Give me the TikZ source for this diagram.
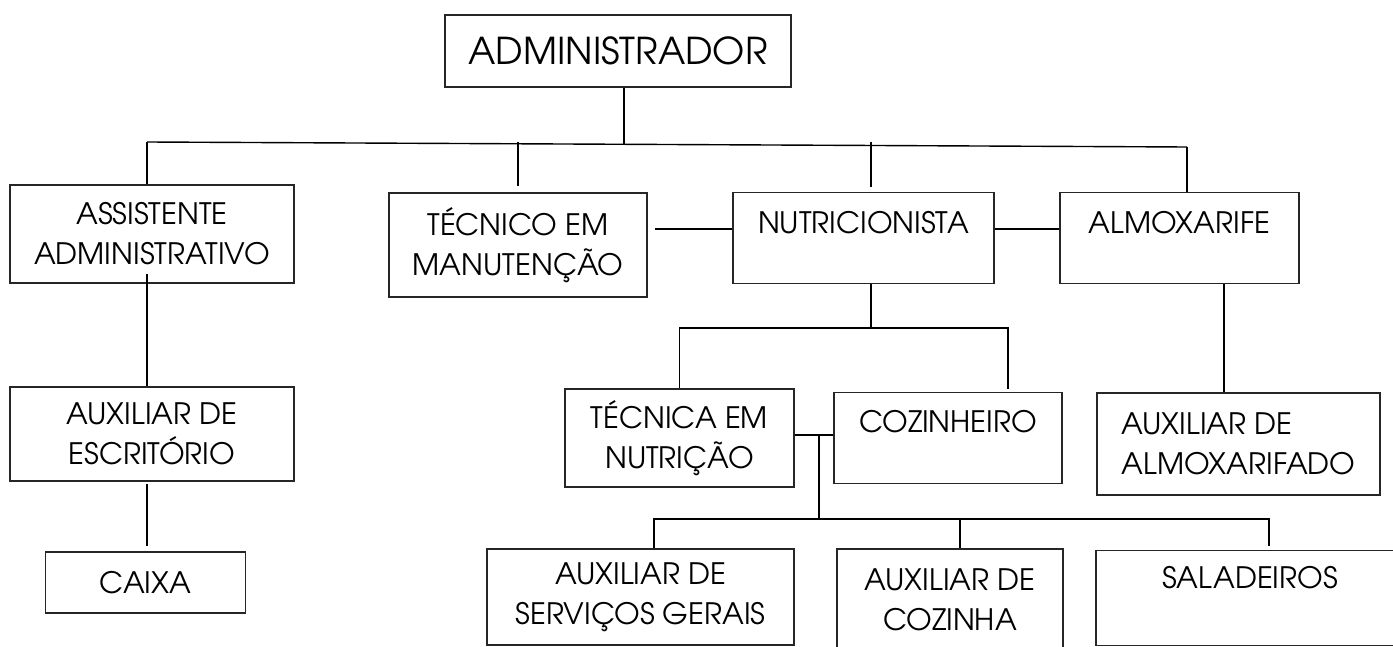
\documentclass[tikz,border=0pt]{standalone}
\usepackage{fontspec}
\setmainfont{TeX Gyre Adventor}
\usetikzlibrary{positioning}

\begin{document}
\begin{tikzpicture}[
  x=1pt, y=-1pt,
  cargo/.style={
    draw=black!85,
    line width=1.1pt,
    align=center,
    inner sep=0pt,
    font=\fontsize{29.5}{40}\selectfont
  },
  topo/.style={cargo, anchor=north},
  link/.style={line width=1.4pt}
]
\useasboundingbox (0,0) rectangle (1393,647);
\clip (0,0) rectangle (1393,647);

% nivel 1
\node[cargo, minimum width=346pt, minimum height=72pt, font=\fontsize{37}{40}\selectfont] (admin) at (618,51) {ADMINISTRADOR};

% nivel 2
\node[cargo, minimum width=284pt, minimum height=98pt] (assist) at (152,234) {ASSISTENTE\\ADMINISTRATIVO};
\node[cargo, minimum width=258pt, minimum height=104pt] (tecman) at (518,245) {TÉCNICO EM\\MANUTENÇÃO};
\node[topo, minimum width=261pt, text height=41pt, text depth=50pt] (nutri) at (863.5,192) {NUTRICIONISTA};
\node[topo, minimum width=239pt, text height=41pt, text depth=50pt] (almox) at (1179.5,192) {ALMOXARIFE};

% nivel 3
\node[cargo, minimum width=284pt, minimum height=94pt] (auxesc) at (152,434) {AUXILIAR DE\\ESCRITÓRIO};
\node[cargo, minimum width=229pt, minimum height=98pt] (tecnut) at (679.5,438) {TÉCNICA EM\\NUTRIÇÃO};
\node[topo, minimum width=228pt, text height=40pt, text depth=51pt] (coz) at (948,392) {COZINHEIRO};
\node[cargo, align=left, minimum width=283pt, minimum height=102pt] (auxalm) at (1238.5,444) {AUXILIAR DE\\ALMOXARIFADO};

% nivel 4
\node[cargo, minimum width=200pt, minimum height=61pt] (caixa) at (145.5,582.5) {CAIXA};
\node[cargo, minimum width=307pt, minimum height=96pt] (auxserv) at (640.5,597) {AUXILIAR DE\\SERVIÇOS GERAIS};
\node[cargo, minimum width=226pt, minimum height=102pt] (auxcoz) at (950,600) {AUXILIAR DE\\COZINHA};
\node[topo, minimum width=308pt, text height=38pt, text depth=57pt] (salad) at (1250,550) {SALADEIROS};

% barras
\coordinate (busA) at (147,142);
\coordinate (busB) at (1187,147);
\coordinate (r1) at (0,229);
\coordinate (busN) at (0,328);
\coordinate (jn) at (819,435);
\coordinate (busS) at (0,519);

% ligacoes
\draw[link] ([xshift=6pt]admin.south) -- ++(0,56);
\draw[link] (busA) -- (busB);
\draw[link] (busA) -- (busA |- assist.north);
\draw[link] (tecman.north |- busA) -- ([yshift=6pt]tecman.north);
\draw[link] ([xshift=7.5pt]nutri.north |- busA) -- ([xshift=7.5pt,yshift=5pt]nutri.north);
\draw[link] (busB) -- (busB |- almox.north);
\draw[link] ([xshift=7pt]tecman.east |- r1) -- (nutri.west |- r1);
\draw[link] (nutri.east |- r1) -- (almox.west |- r1);

\draw[link] ([xshift=-5pt,yshift=10pt]assist.south) -- ([xshift=-5pt]auxesc.north);
\draw[link] ([xshift=-5pt,yshift=-2pt]auxesc.south) -- ([xshift=-5pt,yshift=5pt]auxesc.south |- caixa.north);

\draw[link] ([xshift=7.5pt]nutri.south) -- ([xshift=7.5pt]nutri.south |- busN);
\draw[link] (tecnut.north) -- (tecnut.north |- busN) -- ([xshift=60pt]coz.north |- busN) -- ([xshift=60pt,yshift=3pt]coz.north);
\draw[link] (tecnut.east |- jn) -- (coz.west |- jn);
\draw[link] (jn) -- (jn |- busS);
\draw[link] ([xshift=13.5pt]auxserv.north) -- ([xshift=13.5pt]auxserv.north |- busS) -- ([xshift=19pt]salad.north |- busS) -- ([xshift=19pt,yshift=4pt]salad.north);
\draw[link] ([xshift=10pt]auxcoz.north) -- ([xshift=10pt]auxcoz.north |- busS);
\draw[link] ([xshift=44.5pt]almox.south) -- ([xshift=44.5pt]almox.south |- auxalm.north);

\end{tikzpicture}
\end{document}
